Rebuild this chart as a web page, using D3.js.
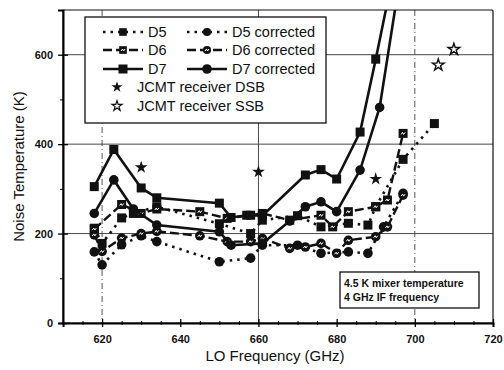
<!DOCTYPE html>
<html><head><meta charset="utf-8">
<script src="https://cdn.jsdelivr.net/npm/d3@7"></script>
<style>body{margin:0;background:#fff}svg{display:block}text{font-family:"Liberation Sans",Arial,sans-serif;fill:#111}</style>
</head><body><div id="c"></div>
<script>
// ---- data ----
const d7Freq = [618, 623, 630, 634, 650, 653, 657, 661, 672, 676, 680, 686, 690, 694];
const d7Vals = [305, 388, 302, 280, 268, 236, 241, 240, 331, 343, 322, 427, 590, 760];
const d7cFreq = [618, 623, 628, 634, 650, 653, 661, 668, 672, 676, 680, 686, 691, 696];
const d7cVals = [245, 320, 255, 219, 204, 174, 178, 228, 260, 271, 249, 342, 482, 760];
const d6Freq = [618, 625, 630, 634, 645, 652, 658, 661, 668, 676, 679, 683, 690, 693, 697];
const d6Vals = [210, 265, 245, 255, 249, 234, 241, 245, 230, 241, 215, 249, 260, 275, 424];
const d6cFreq = [618, 620, 625, 630, 634, 645, 652, 658, 661, 668, 672, 676, 680, 683, 690, 693, 697];
const d6cVals = [197, 160, 190, 200, 205, 195, 182, 182, 189, 167, 170, 178, 156, 185, 193, 215, 286];
const d5Freq = [618, 620, 625, 628, 634, 650, 658, 661, 670, 676, 683, 688, 690, 697, 705];
const d5Vals = [212, 178, 235, 245, 260, 222, 200, 230, 240, 215, 223, 219, 260, 366, 446];
const d5cFreq = [618, 620, 625, 630, 634, 650, 658, 661, 670, 676, 683, 688, 692, 697];
const d5cVals = [159, 130, 175, 195, 182, 137, 145, 174, 174, 156, 159, 156, 215, 290];
const dsbFreq = [630, 660, 690];
const dsbVals = [348, 338, 322];
const ssbFreq = [706, 710];
const ssbVals = [577, 612];
const xTicks = [620, 640, 660, 680, 700, 720];
const yTicks = [0, 200, 400, 600];
const legendLabels = ["D5", "D6", "D7", "D5 corrected", "D6 corrected", "D7 corrected", "JCMT receiver DSB", "JCMT receiver SSB"];
const noteLines = ["4.5 K mixer temperature", "4 GHz IF frequency"];

// ---- layout ----
const W = 504, H = 370;
const L = 63, R = 493, T = 10, B = 323;
const svg = d3.select("#c").append("svg").attr("width", W).attr("height", H);
const x = d3.scaleLinear().domain([610, 720]).range([L, R]);
const y = d3.scaleLinear().domain([0, 700]).range([B, T]);
const ink = "#111";

// grid
const g = svg.append("g");
[200, 400, 600].forEach(v => g.append("line").attr("x1", L).attr("x2", R).attr("y1", y(v)).attr("y2", y(v))
  .attr("stroke", "#333").attr("stroke-width", 0.9));
[620, 700].forEach(v => g.append("line").attr("x1", x(v)).attr("x2", x(v)).attr("y1", T).attr("y2", B)
  .attr("stroke", "#444").attr("stroke-width", 0.9).attr("stroke-dasharray", "6,3,1,3"));
g.append("line").attr("x1", x(660)).attr("x2", x(660)).attr("y1", T).attr("y2", B).attr("stroke", "#333").attr("stroke-width", 0.9);

// frame
svg.append("rect").attr("x", L).attr("y", T).attr("width", R - L).attr("height", B - T)
  .attr("fill", "none").attr("stroke", ink).attr("stroke-width", 1.2).attr("rx", 1);

// axes
const xAxis = d3.axisBottom(x).tickValues(xTicks).tickSize(4).tickPadding(8).tickFormat(d3.format("d"));
const xa = svg.append("g").attr("transform", `translate(0,${B})`).call(xAxis);
xa.select(".domain").attr("stroke-width", 2);
xa.selectAll(".tick line").attr("y1", -4).attr("stroke-width", 1.3);
xa.selectAll("text").attr("font-size", 11).attr("font-weight", "bold").style("font-family", "Liberation Sans, Arial");
const xMinor = d3.axisBottom(x).tickValues(d3.range(615, 720, 5).filter(v => v % 20 !== 0)).tickSize(2).tickFormat("");
const xm = svg.append("g").attr("transform", `translate(0,${B})`).call(xMinor);
xm.select(".domain").remove();
xm.selectAll(".tick line").attr("y1", -2);

const yAxis = d3.axisLeft(y).tickValues(yTicks).tickSize(5).tickPadding(4).tickFormat(d3.format("d"));
const ya = svg.append("g").attr("transform", `translate(${L},0)`).call(yAxis);
ya.select(".domain").attr("stroke-width", 2);
ya.selectAll(".tick line").attr("x2", 5).attr("x1", -5).attr("stroke-width", 1.3);
ya.selectAll("text").attr("font-size", 11).attr("font-weight", "bold").attr("x", -10);
const yMinor = d3.axisLeft(y).tickValues([100, 300, 500]).tickSize(3).tickFormat("");
const ym = svg.append("g").attr("transform", `translate(${L},0)`).call(yMinor);
ym.select(".domain").remove();

svg.append("text").attr("x", 275).attr("y", 361).attr("text-anchor", "middle").attr("font-size", 15).text("LO Frequency (GHz)");
svg.append("text").attr("transform", `translate(24,${(T + B) / 2}) rotate(-90)`).attr("text-anchor", "middle").attr("font-size", 15).text("Noise Temperature (K)");

// clip
svg.append("clipPath").attr("id", "clip").append("rect").attr("x", L).attr("y", T).attr("width", R - L).attr("height", B - T);
const plot = svg.append("g").attr("clip-path", "url(#clip)");

const line = d3.line().x(d => x(d[0])).y(d => y(d[1]));
const styles = {
  d5: {dash: "2.5,5", w: 2.6},
  d6: {dash: "9,4", w: 2.4},
  d7: {dash: null, w: 2.6}
};
function series(fr, vals, st, marker, mark) {
  const pts = fr.map((f, i) => [f, vals[i]]);
  plot.append("path").attr("d", line(pts)).attr("fill", "none").attr("stroke", ink)
    .attr("stroke-width", st.w).attr("stroke-dasharray", st.dash);
  pts.forEach(p => drawMarker(plot, x(p[0]), y(p[1]), marker, mark, 1));
}
function drawMarker(sel, cx, cy, marker, mark, s) {
  if (marker === "sq") {
    const a = 9 * s;
    sel.append("rect").attr("x", cx - a / 2).attr("y", cy - a / 2).attr("width", a).attr("height", a).attr("fill", ink);
  } else {
    sel.append("circle").attr("cx", cx).attr("cy", cy).attr("r", 4.8 * s).attr("fill", ink);
  }
  if (mark) {
    sel.append("path").attr("d", `M${cx - 2},${cy + 1}l1.5,-2l1,2l1.5,-2`).attr("fill", "none")
      .attr("stroke", "#fff").attr("stroke-width", 1);
  }
}
series(d5Freq, d5Vals, styles.d5, "sq", false);
series(d5cFreq, d5cVals, styles.d5, "ci", false);
series(d6Freq, d6Vals, styles.d6, "sq", true);
series(d6cFreq, d6cVals, styles.d6, "ci", true);
series(d7Freq, d7Vals, styles.d7, "sq", false);
series(d7cFreq, d7cVals, styles.d7, "ci", false);

const star = d3.symbol().type(d3.symbolStar);
dsbFreq.forEach((f, i) => plot.append("path").attr("d", star.size(50)()).attr("transform", `translate(${x(f)},${y(dsbVals[i])})`).attr("fill", ink));
ssbFreq.forEach((f, i) => plot.append("path").attr("d", star.size(42)()).attr("transform", `translate(${x(f)},${y(ssbVals[i])})`)
  .attr("fill", "#fff").attr("stroke", ink).attr("stroke-width", 1.4));

// legend
const lg = svg.append("g");
lg.append("rect").attr("x", 85).attr("y", 17).attr("width", 241).attr("height", 106).attr("fill", "#fff").attr("stroke", ink).attr("stroke-width", 1.3);
const rows = [32, 50, 69];
const st = [styles.d5, styles.d6, styles.d7];
[0, 1, 2].forEach(i => {
  [[103, 143, 148, "sq", i], [187, 227, 232, "ci", i + 3]].forEach(([x1, x2, tx, mk, li]) => {
    lg.append("line").attr("x1", x1).attr("x2", x2).attr("y1", rows[i]).attr("y2", rows[i]).attr("stroke", ink)
      .attr("stroke-width", st[i].w).attr("stroke-dasharray", st[i].dash);
    drawMarker(lg, (x1 + x2) / 2, rows[i], mk, i === 1, i === 2 ? 1 : 0.85);
    lg.append("text").attr("x", tx).attr("y", rows[i] + 5).attr("font-size", 14.5).text(legendLabels[li]);
  });
});
lg.append("path").attr("d", star.size(38)()).attr("transform", "translate(117,87)").attr("fill", ink);
lg.append("text").attr("x", 137).attr("y", 92).attr("font-size", 14.5).text(legendLabels[6]);
lg.append("path").attr("d", star.size(32)()).attr("transform", "translate(117,106)").attr("fill", "#fff").attr("stroke", ink).attr("stroke-width", 1.2);
lg.append("text").attr("x", 137).attr("y", 111).attr("font-size", 14.5).text(legendLabels[7]);

// note box
const nb = svg.append("g");
nb.append("rect").attr("x", 340).attr("y", 272).attr("width", 139).attr("height", 36).attr("fill", "#fff").attr("stroke", ink).attr("stroke-width", 1.3);
noteLines.forEach((t, i) => nb.append("text").attr("x", 344).attr("y", 287 + i * 14).attr("font-size", 10.5).attr("font-weight", "bold").text(t));
</script></body></html>
